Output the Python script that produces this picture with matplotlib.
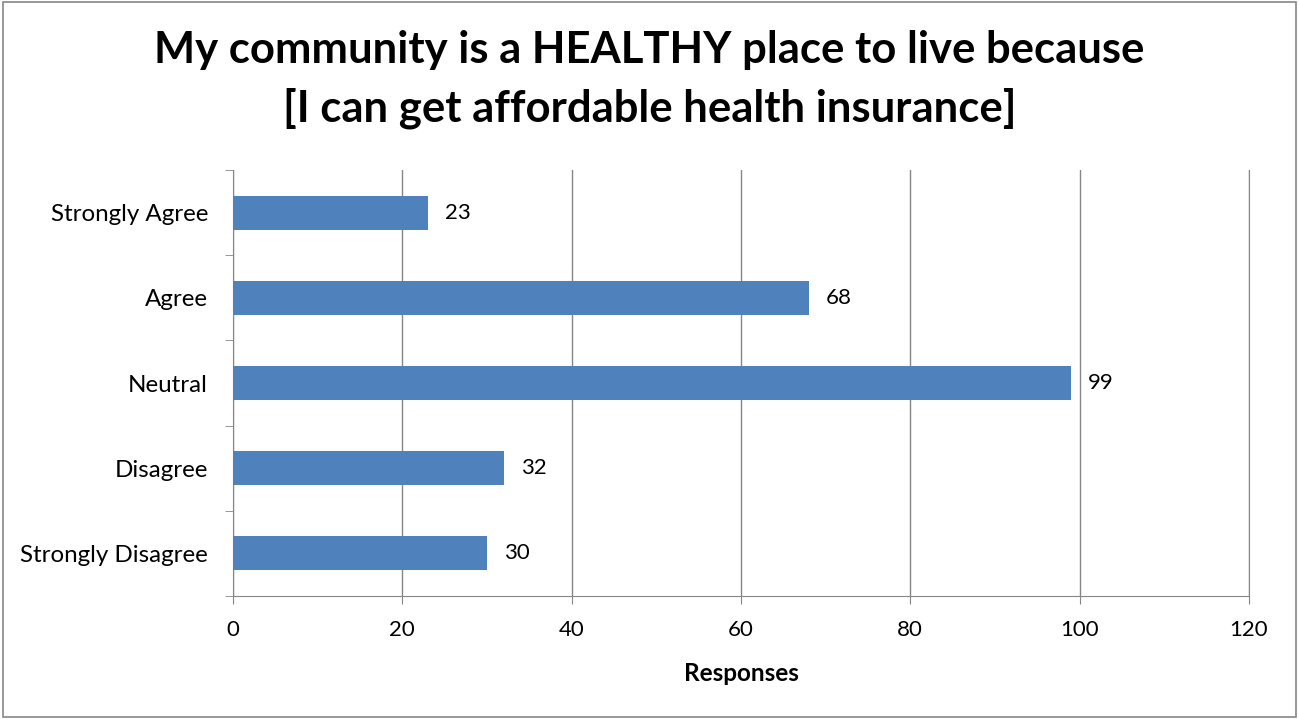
import numpy as np
import matplotlib
matplotlib.use('Agg')
import matplotlib.pyplot as plt
from matplotlib.patches import Rectangle

# data (top to bottom as shown)
categories = ['Strongly Agree', 'Agree', 'Neutral', 'Disagree', 'Strongly Disagree']
responses = [23, 68, 99, 32, 30]
x_ticks = [0, 20, 40, 60, 80, 100, 120]

plt.rcParams['font.family'] = ['Lato', 'DejaVu Sans']

fig = plt.figure(figsize=(12.99, 7.19), dpi=100)
ax = fig.add_axes([0.1794, 0.171, 0.782, 0.5925])

y = np.arange(len(categories))[::-1]
ax.barh(y, responses, height=0.4, color='#4F81BD', zorder=3)
for yi, v in zip(y, responses):
    ax.text(v + 2.0, yi, str(v), va='center', ha='left', fontsize=16, color='black')

ax.set_xlim(0, 120)
ax.set_ylim(-0.5, len(categories) - 0.5)
ax.set_xticks(x_ticks)
ax.set_xticklabels([str(t) for t in x_ticks], fontsize=16)
ax.set_yticks(y)
ax.set_yticklabels(categories, fontsize=17.4)
ax.set_yticks(np.arange(-0.5, len(categories)), minor=True)
ax.tick_params(axis='y', which='major', length=0, pad=18)
ax.tick_params(axis='y', which='minor', length=6, color='#868686', direction='out')
ax.tick_params(axis='x', which='major', length=6, color='#868686', direction='out', pad=11)

ax.grid(axis='x', color='#868686', linewidth=1.0, zorder=0)
ax.spines['top'].set_visible(False)
for s in ['left', 'bottom', 'right']:
    ax.spines[s].set_color('#868686')

ax.set_xlabel('Responses', fontsize=17.5, fontweight='bold', labelpad=16)

fig.text(0.5, 0.958, 'My community is a HEALTHY place to live because\n[I can get affordable health insurance]',
         ha='center', va='top', fontsize=31.4, fontweight='bold', linespacing=1.5)

fig.patches.append(Rectangle((0.002, 0.003), 0.996, 0.994, transform=fig.transFigure,
                             fill=False, edgecolor='#868686', linewidth=1.2))

fig.savefig('out.png', dpi=100)
